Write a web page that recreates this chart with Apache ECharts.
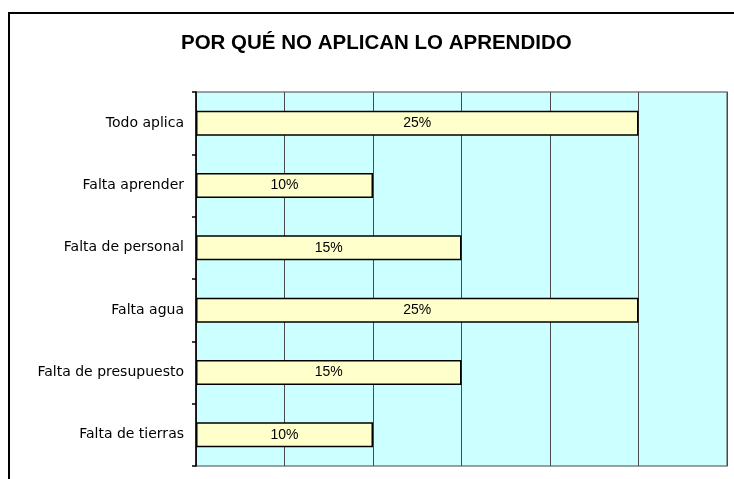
<!DOCTYPE html>
<html>
<head>
<meta charset="utf-8">
<script src="https://cdn.jsdelivr.net/npm/echarts@6/dist/echarts.min.js"></script>
<style>html,body{margin:0;padding:0;background:#fff}#c{width:734px;height:479px}</style>
</head>
<body>
<div id="c"></div>
<script>
const titleText = 'POR QUÉ NO APLICAN LO APRENDIDO';
const categories = ['Todo aplica', 'Falta aprender', 'Falta de personal', 'Falta agua', 'Falta de presupuesto', 'Falta de tierras'];
const values = [25, 10, 15, 25, 15, 10];

const chart = echarts.init(document.getElementById('c'), null, {renderer: 'canvas'});
chart.setOption({
  animation: false,
  backgroundColor: '#ffffff',
  title: {
    text: titleText,
    left: 176,
    top: 28,
    textStyle: {fontFamily: 'Liberation Sans', fontWeight: 'bold', fontSize: 20.5, color: '#000'}
  },
  graphic: [{
    type: 'rect', silent: true,
    shape: {x: 9, y: 13, width: 800, height: 600},
    style: {fill: 'none', stroke: '#000', lineWidth: 2}
  }],
  grid: {
    left: 196, right: 7, top: 92, bottom: 13,
    show: true, backgroundColor: '#CCFFFF', borderColor: '#808080', borderWidth: 1.5,
    containLabel: false
  },
  xAxis: {
    type: 'value', min: 0, max: 30, interval: 5,
    axisLabel: {show: false}, axisTick: {show: false}, axisLine: {show: false},
    splitLine: {show: true, lineStyle: {color: '#4a4a4a', width: 1}}
  },
  yAxis: {
    type: 'category', data: categories, inverse: true,
    axisLine: {show: true, lineStyle: {color: '#000', width: 1.5}},
    axisTick: {show: true, length: 4, lineStyle: {color: '#000', width: 1.5}},
    axisLabel: {margin: 12, fontFamily: 'DejaVu Sans', fontSize: 14, color: '#000'}
  },
  series: [{
    type: 'bar', data: values, barWidth: 25,
    itemStyle: {color: '#FFFFCC', borderColor: '#000', borderWidth: 1.5},
    label: {show: true, position: 'inside', formatter: '{c}%', fontFamily: 'Liberation Sans', fontSize: 14, color: '#000'}
  }]
});
</script>
</body>
</html>
